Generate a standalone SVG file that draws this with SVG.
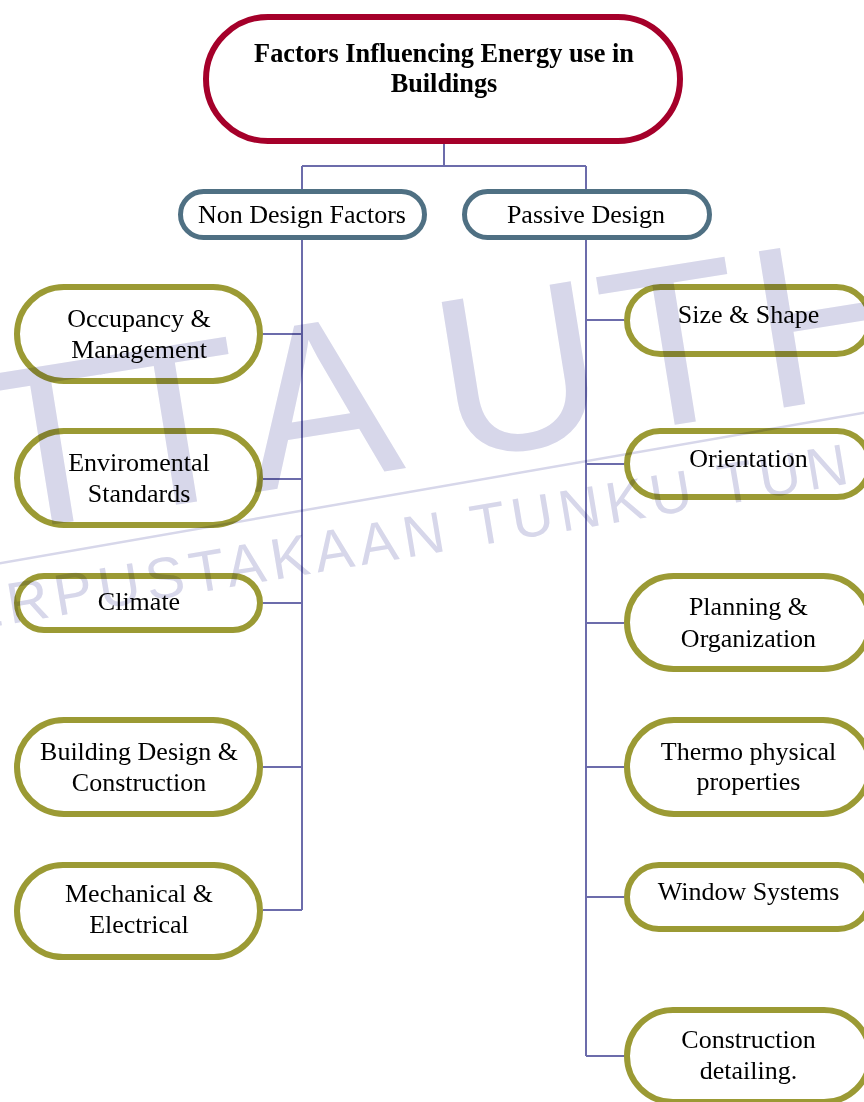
<svg xmlns="http://www.w3.org/2000/svg" width="864" height="1102" viewBox="0 0 864 1102">
<style>
.root{fill:#fff;stroke:#a5002a;stroke-width:6}
.mid{fill:#fff;stroke:#4f7083;stroke-width:5}
.leaf{fill:#fff;stroke:#9b9a34;stroke-width:6}
.t{font-family:"Liberation Serif","Times New Roman",serif;font-size:26px;fill:#000;text-anchor:middle}
.tb{font-family:"Liberation Serif","Times New Roman",serif;font-size:26.3px;font-weight:bold;fill:#000;text-anchor:middle}
.conn{fill:none;stroke:#6c6cab;stroke-width:2}
.wm{fill:#d7d7ea;mix-blend-mode:multiply}
</style>
<rect width="864" height="1102" fill="#fff"/>
<g id="connectors">
<path class="conn" d="M444 144V166M302 166H586M302 166V190M586 166V190"/>
<path class="conn" d="M302 240V910M263 334H302M263 479H302M263 603H302M263 767H302M263 910H302"/>
<path class="conn" d="M586 240V1056M586 320H624M586 464H624M586 623H624M586 767H624M586 897H624M586 1056H624"/>
</g>
<g id="root"><rect class="root" x="206" y="17" width="474" height="124" rx="62"/>
<text class="tb" x="444" y="62">Factors Influencing Energy use in</text><text class="tb" x="444" y="92">Buildings</text></g>
<g id="non-design"><rect class="mid" x="180.5" y="191.5" width="244" height="46" rx="23"/><text class="t" x="302" y="223">Non Design Factors</text></g>
<g id="passive-design"><rect class="mid" x="464.5" y="191.5" width="245" height="46" rx="23"/><text class="t" x="586" y="223">Passive Design</text></g>
<g id="occupancy"><rect class="leaf" x="17" y="287" width="243" height="94" rx="47"/><text class="t" x="139" y="327">Occupancy &amp;</text><text class="t" x="139" y="358">Management</text></g>
<g id="environmental"><rect class="leaf" x="17" y="431" width="243" height="94" rx="47"/><text class="t" x="139" y="471">Enviromental</text><text class="t" x="139" y="502">Standards</text></g>
<g id="climate"><rect class="leaf" x="17" y="576" width="243" height="54" rx="27"/><text class="t" x="139" y="610">Climate</text></g>
<g id="building-design"><rect class="leaf" x="17" y="720" width="243" height="94" rx="47"/><text class="t" x="139" y="760">Building Design &amp;</text><text class="t" x="139" y="791">Construction</text></g>
<g id="mechanical"><rect class="leaf" x="17" y="865" width="243" height="92" rx="46"/><text class="t" x="139" y="902">Mechanical &amp;</text><text class="t" x="139" y="933">Electrical</text></g>
<g id="size-shape"><rect class="leaf" x="627" y="287" width="243" height="67" rx="33.5"/><text class="t" x="748.5" y="323">Size &amp; Shape</text></g>
<g id="orientation"><rect class="leaf" x="627" y="431" width="243" height="66" rx="33"/><text class="t" x="748.5" y="467">Orientation</text></g>
<g id="planning"><rect class="leaf" x="627" y="576" width="243" height="93" rx="46.5"/><text class="t" x="748.5" y="615">Planning &amp;</text><text class="t" x="748.5" y="647">Organization</text></g>
<g id="thermo"><rect class="leaf" x="627" y="720" width="243" height="94" rx="47"/><text class="t" x="748.5" y="760">Thermo physical</text><text class="t" x="748.5" y="790">properties</text></g>
<g id="window"><rect class="leaf" x="627" y="865" width="243" height="64" rx="32"/><text class="t" x="748.5" y="900">Window Systems</text></g>
<g id="construction-detailing"><rect class="leaf" x="627" y="1010" width="243" height="92" rx="46"/><text class="t" x="748.5" y="1048">Construction</text><text class="t" x="748.5" y="1079">detailing.</text></g>
<g id="watermark">
<text class="wm" transform="translate(0,533) rotate(-9.1)" x="-60 64 189 335 538 694 858 1010" y="0" font-family="Liberation Sans, Arial, sans-serif" font-size="230" text-anchor="middle">PTTAUTHM</text>
<line x1="-10" y1="565" x2="874" y2="411" stroke="#d7d7ea" stroke-width="2.5" style="mix-blend-mode:multiply"/>
<text class="wm" transform="translate(10,624) rotate(-9.5)" x="-89" y="0" font-family="Liberation Sans, Arial, sans-serif" font-size="58" letter-spacing="6">PERPUSTAKAAN TUNKU TUN AMINAH</text>
</g>
</svg>
